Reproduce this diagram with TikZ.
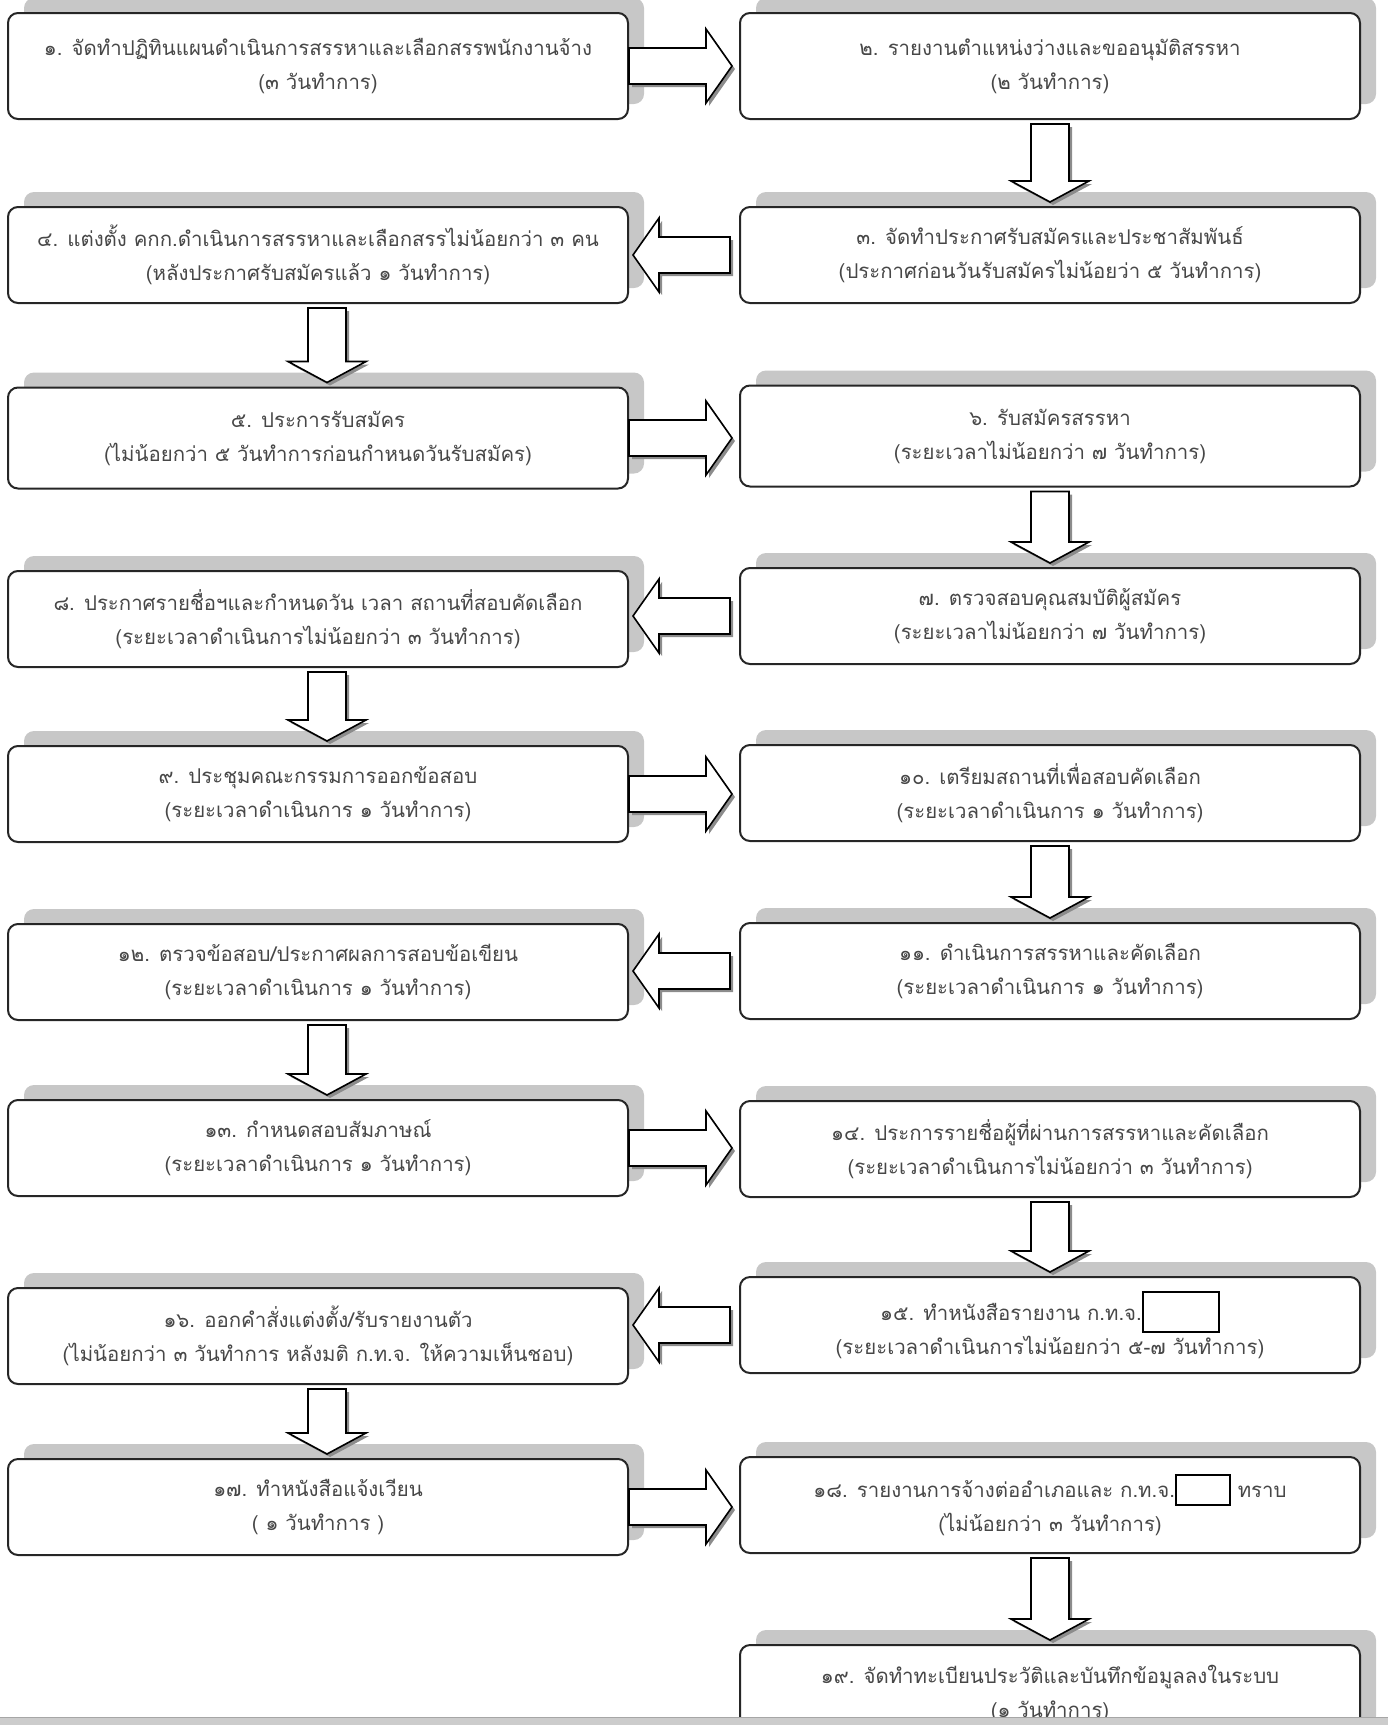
\documentclass[tikz,border=0pt]{standalone}
\usepackage{fontspec}
\setmainfont[Script=Thai]{Loma}
\usetikzlibrary{calc,shadows}
\newcommand{\blank}[3]{\setlength{\fboxsep}{0pt}\setlength{\fboxrule}{1pt}\fcolorbox{black}{white}{\rule[-#3]{0pt}{#2}\hspace{#1}}}
\tikzset{stage/.style = {rectangle, rounded corners=5pt, draw=black!85, line width=1pt,
    fill=white, minimum width=310pt, minimum height=48pt, align=center, text=black!72,
    font=\fontsize{10.2}{17}\selectfont,
    drop shadow={shadow xshift=8pt, shadow yshift=7.5pt, fill=black!22, opacity=1}},
  tall/.style = {minimum height=53pt},
  mid/.style = {minimum height=50.5pt},
  blockArrow/.style = {draw=black, line width=0.8pt, fill=white,
    drop shadow={shadow xshift=1.5pt, shadow yshift=-1.5pt, fill=black!45, opacity=1}},
  goRight/.style = {blockArrow, to path={let \p1=(\tikztostart), \p2=(\tikztotarget) in
    (\x1,\y1+9pt) -- (\x2-13pt,\y1+9pt) -- (\x2-13pt,\y1+18.5pt) -- (\x2,\y1)
    -- (\x2-13pt,\y1-18.5pt) -- (\x2-13pt,\y1-9pt) -- (\x1,\y1-9pt) -- cycle}},
  goLeft/.style = {blockArrow, to path={let \p1=(\tikztostart), \p2=(\tikztotarget) in
    (\x1,\y1+9pt) -- (\x2+13pt,\y1+9pt) -- (\x2+13pt,\y1+18.5pt) -- (\x2,\y1)
    -- (\x2+13pt,\y1-18.5pt) -- (\x2+13pt,\y1-9pt) -- (\x1,\y1-9pt) -- cycle}},
  goDown/.style = {blockArrow, to path={let \p1=(\tikztostart), \p2=(\tikztotarget) in
    (\x1-9.5pt,\y1) -- (\x1-9.5pt,\y2+10.5pt) -- (\x1-19.5pt,\y2+10.5pt) -- (\x1,\y2)
    -- (\x1+19.5pt,\y2+10.5pt) -- (\x1+9.5pt,\y2+10.5pt) -- (\x1+9.5pt,\y1) -- cycle}}}

\begin{document}
\begin{tikzpicture}[x=0.5pt, y=-0.5pt]
  \useasboundingbox (0,0) rectangle (1388,1725);
  \clip (0,0) rectangle (1388,1725);

  % steps, two columns
  \node[stage, tall] (b1) at (318,66) {๑. จัดทำปฏิทินแผนดำเนินการสรรหาและเลือกสรรพนักงานจ้าง\\(๓ วันทำการ)};
  \node[stage, tall] (b2) at (1050,66) {๒. รายงานตำแหน่งว่างและขออนุมัติสรรหา\\(๒ วันทำการ)};
  \node[stage] (b3) at (1050,255) {๓. จัดทำประกาศรับสมัครและประชาสัมพันธ์\\(ประกาศก่อนวันรับสมัครไม่น้อยว่า ๕ วันทำการ)};
  \node[stage] (b4) at (318,255) {๔. แต่งตั้ง คกก.ดำเนินการสรรหาและเลือกสรรไม่น้อยกว่า ๓ คน\\(หลังประกาศรับสมัครแล้ว ๑ วันทำการ)};
  \node[stage, mid] (b5) at (318,438) {๕. ประการรับสมัคร\\(ไม่น้อยกว่า ๕ วันทำการก่อนกำหนดวันรับสมัคร)};
  \node[stage, mid] (b6) at (1050,436) {๖. รับสมัครสรรหา\\(ระยะเวลาไม่น้อยกว่า ๗ วันทำการ)};
  \node[stage] (b7) at (1050,616) {๗. ตรวจสอบคุณสมบัติผู้สมัคร\\(ระยะเวลาไม่น้อยกว่า ๗ วันทำการ)};
  \node[stage] (b8) at (318,619) {๘. ประกาศรายชื่อฯและกำหนดวัน เวลา สถานที่สอบคัดเลือก\\(ระยะเวลาดำเนินการไม่น้อยกว่า ๓ วันทำการ)};
  \node[stage] (b9) at (318,794) {๙. ประชุมคณะกรรมการออกข้อสอบ\\(ระยะเวลาดำเนินการ ๑ วันทำการ)};
  \node[stage] (b10) at (1050,793) {๑๐. เตรียมสถานที่เพื่อสอบคัดเลือก\\(ระยะเวลาดำเนินการ ๑ วันทำการ)};
  \node[stage] (b11) at (1050,971) {๑๑. ดำเนินการสรรหาและคัดเลือก\\(ระยะเวลาดำเนินการ ๑ วันทำการ)};
  \node[stage] (b12) at (318,972) {๑๒. ตรวจข้อสอบ/ประกาศผลการสอบข้อเขียน\\(ระยะเวลาดำเนินการ ๑ วันทำการ)};
  \node[stage] (b13) at (318,1148) {๑๓. กำหนดสอบสัมภาษณ์\\(ระยะเวลาดำเนินการ ๑ วันทำการ)};
  \node[stage] (b14) at (1050,1149) {๑๔. ประการรายชื่อผู้ที่ผ่านการสรรหาและคัดเลือก\\(ระยะเวลาดำเนินการไม่น้อยกว่า ๓ วันทำการ)};
  \node[stage] (b15) at (1050,1325) {๑๕. ทำหนังสือรายงาน ก.ท.จ.\blank{37pt}{19pt}{5pt}\\(ระยะเวลาดำเนินการไม่น้อยกว่า ๕-๗ วันทำการ)};
  \node[stage] (b16) at (318,1336) {๑๖. ออกคำสั่งแต่งตั้ง/รับรายงานตัว\\(ไม่น้อยกว่า ๓ วันทำการ หลังมติ ก.ท.จ. ให้ความเห็นชอบ)};
  \node[stage] (b17) at (318,1507) {๑๗. ทำหนังสือแจ้งเวียน\\( ๑ วันทำการ )};
  \node[stage] (b18) at (1050,1505) {๑๘. รายงานการจ้างต่ออำเภอและ ก.ท.จ.\blank{26pt}{14pt}{3pt} ทราบ\\(ไม่น้อยกว่า ๓ วันทำการ)};
  \node[stage] (b19) at (1050,1693) {๑๙. จัดทำทะเบียนประวัติและบันทึกข้อมูลลงในระบบ\\(๑ วันทำการ)};

  % block arrows
  \draw[goRight] (b1.east) to ([xshift=-3.5pt]b2.west);
  \draw[goDown] ([yshift=-2pt]b2.south) to ([yshift=2pt]b3.north);
  \draw[goLeft] ([xshift=-4.5pt]b3.west) to ([xshift=2pt]b4.east);
  \draw[goDown] ([xshift=4.5pt,yshift=-2pt]b4.south) to ([xshift=4.5pt,yshift=2pt]b5.north);
  \draw[goRight] (b5.east) to ([xshift=-3.5pt]b6.west);
  \draw[goDown] ([yshift=-2pt]b6.south) to ([yshift=2pt]b7.north);
  \draw[goLeft] ([xshift=-4.5pt]b7.west) to ([xshift=2pt]b8.east);
  \draw[goDown] ([xshift=4.5pt,yshift=-2pt]b8.south) to ([xshift=4.5pt,yshift=2pt]b9.north);
  \draw[goRight] (b9.east) to ([xshift=-3.5pt]b10.west);
  \draw[goDown] ([yshift=-2pt]b10.south) to ([yshift=2pt]b11.north);
  \draw[goLeft] ([xshift=-4.5pt]b11.west) to ([xshift=2pt]b12.east);
  \draw[goDown] ([xshift=4.5pt,yshift=-2pt]b12.south) to ([xshift=4.5pt,yshift=2pt]b13.north);
  \draw[goRight] (b13.east) to ([xshift=-3.5pt]b14.west);
  \draw[goDown] ([yshift=-2pt]b14.south) to ([yshift=2pt]b15.north);
  \draw[goLeft] ([xshift=-4.5pt]b15.west) to ([xshift=2pt]b16.east);
  \draw[goDown] ([xshift=4.5pt,yshift=-2pt]b16.south) to ([xshift=4.5pt,yshift=2pt]b17.north);
  \draw[goRight] (b17.east) to ([xshift=-3.5pt]b18.west);
  \draw[goDown] ([yshift=-2pt]b18.south) to ([yshift=2pt]b19.north);

  % page edge
  \fill[black!20] (0,1717) rectangle (1388,1725);
  \draw[black!35] (0,1717) -- (1388,1717);
\end{tikzpicture}
\end{document}
